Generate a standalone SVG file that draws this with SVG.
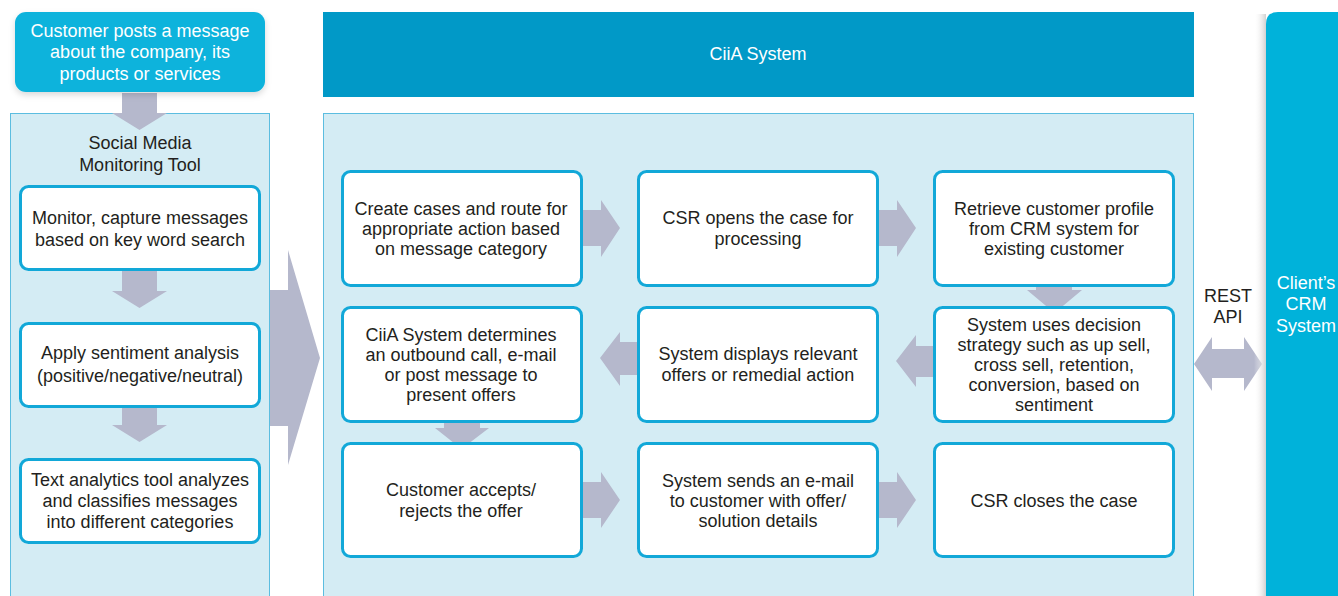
<svg xmlns="http://www.w3.org/2000/svg" width="1338" height="596" viewBox="0 0 1338 596">
<style>
text{font-family:"Liberation Sans",Arial,sans-serif;font-size:18px;fill:#231f20;text-anchor:middle}
.w{fill:#ffffff}
.panel{fill:#d4ecf4;stroke:#5bbde0;stroke-width:1}
.box{fill:#ffffff;stroke:#12a8d8;stroke-width:3}
.arr{fill:#b5b8cc}
</style>
<defs>
<linearGradient id="sh" x1="0" y1="0" x2="1" y2="0">
<stop offset="0" stop-color="#ffffff" stop-opacity="0"/>
<stop offset="1" stop-color="#d0d0d0"/>
</linearGradient>
<filter id="ds" x="-10%" y="-10%" width="120%" height="130%">
<feDropShadow dx="0" dy="3" stdDeviation="3" flood-color="#000" flood-opacity="0.15"/>
</filter>
</defs>

<g id="panels">
<rect class="panel" x="10.5" y="113.5" width="259" height="490"/>
<rect class="panel" x="323.5" y="113.5" width="870" height="490"/>
</g>

<g id="connectors">
<polygon class="arr" points="122,93 157,93 157,113 167,113 139.5,130 112,113 122,113"/>
<polygon class="arr" points="122,270 157,270 157,291 167,291 139.5,308 112,291 122,291"/>
<polygon class="arr" points="122,406 157,406 157,425 167,425 139.5,442 112,425 122,425"/>
<polygon class="arr" points="270,290 288,290 288,250 320,358 288,465 288,426 270,426"/>
<polygon class="arr" points="582,210 601,210 601,200 620,228 601,257 601,246 582,246"/>
<polygon class="arr" points="878,210 897,210 897,200 916,228 897,257 897,246 878,246"/>
<polygon class="arr" points="1036,284 1072,284 1072,290 1082,290 1054.5,313 1027,290 1036,290"/>
<polygon class="arr" points="934,346 916,346 916,335 896,361 916,387 916,377 934,377"/>
<polygon class="arr" points="638,342 620,342 620,332 600,358 620,386 620,375 638,375"/>
<polygon class="arr" points="444,420 480,420 480,428 489,428 461.5,449 435,428 444,428"/>
<polygon class="arr" points="582,482 601,482 601,472 620,500 601,528 601,518 582,518"/>
<polygon class="arr" points="878,482 897,482 897,472 916,500 897,528 897,518 878,518"/>
<polygon class="arr" points="1194,364 1212,337 1212,349 1244,349 1244,337 1262,364 1244,391 1244,378 1212,378 1212,391"/>
</g>

<g id="customer">
<rect x="15" y="12" width="250" height="80" rx="11" fill="#0db3dc" filter="url(#ds)"/>
<text class="w" x="140" y="37">Customer posts a message</text>
<text class="w" x="140" y="58">about the company, its</text>
<text class="w" x="140" y="80">products or services</text>
</g>

<g id="smm-title">
<text x="140" y="149">Social Media</text>
<text x="140" y="171">Monitoring Tool</text>
</g>

<g id="monitor">
<rect class="box" x="20.5" y="186.5" width="239" height="83" rx="8"/>
<text x="140" y="224">Monitor, capture messages</text>
<text x="140" y="246">based on key word search</text>
</g>
<g id="sentiment">
<rect class="box" x="20.5" y="323.5" width="239" height="83" rx="8"/>
<text x="140" y="359">Apply sentiment analysis</text>
<text x="140" y="382">(positive/negative/neutral)</text>
</g>
<g id="analytics">
<rect class="box" x="20.5" y="459.5" width="239" height="83" rx="8"/>
<text x="140" y="486">Text analytics tool analyzes</text>
<text x="140" y="507">and classifies messages</text>
<text x="140" y="528">into different categories</text>
</g>

<g id="ciia-header">
<rect x="323" y="12" width="871" height="85" fill="#0199c7"/>
<text class="w" x="758" y="60">CiiA System</text>
</g>

<g id="create-cases">
<rect class="box" x="342.5" y="171.5" width="239" height="114" rx="8"/>
<text x="461" y="215">Create cases and route for</text>
<text x="461" y="235">appropriate action based</text>
<text x="461" y="255">on message category</text>
</g>
<g id="csr-opens">
<rect class="box" x="638.5" y="171.5" width="239" height="114" rx="8"/>
<text x="758" y="224">CSR opens the case for</text>
<text x="758" y="245">processing</text>
</g>
<g id="retrieve">
<rect class="box" x="934.5" y="171.5" width="239" height="114" rx="8"/>
<text x="1054" y="215">Retrieve customer profile</text>
<text x="1054" y="235">from CRM system for</text>
<text x="1054" y="255">existing customer</text>
</g>

<g id="determines">
<rect class="box" x="342.5" y="307.5" width="239" height="114" rx="8"/>
<text x="461" y="341">CiiA System determines</text>
<text x="461" y="361">an outbound call, e-mail</text>
<text x="461" y="381">or post message to</text>
<text x="461" y="401">present offers</text>
</g>
<g id="displays">
<rect class="box" x="638.5" y="307.5" width="239" height="114" rx="8"/>
<text x="758" y="360">System displays relevant</text>
<text x="758" y="381">offers or remedial action</text>
</g>
<g id="decision">
<rect class="box" x="934.5" y="307.5" width="239" height="114" rx="8"/>
<text x="1054" y="331">System uses decision</text>
<text x="1054" y="351">strategy such as up sell,</text>
<text x="1054" y="371">cross sell, retention,</text>
<text x="1054" y="391">conversion, based on</text>
<text x="1054" y="411">sentiment</text>
</g>

<g id="accepts">
<rect class="box" x="342.5" y="443.5" width="239" height="113" rx="8"/>
<text x="461" y="496">Customer accepts/</text>
<text x="461" y="517">rejects the offer</text>
</g>
<g id="sends">
<rect class="box" x="638.5" y="443.5" width="239" height="113" rx="8"/>
<text x="758" y="487">System sends an e-mail</text>
<text x="758" y="507">to customer with offer/</text>
<text x="758" y="527">solution details</text>
</g>
<g id="closes">
<rect class="box" x="934.5" y="443.5" width="239" height="113" rx="8"/>
<text x="1054" y="507">CSR closes the case</text>
</g>

<g id="rest-api">
<text x="1228" y="302">REST</text>
<text x="1228" y="323">API</text>
</g>

<g id="crm">
<rect x="1254" y="14" width="12" height="582" fill="url(#sh)"/>
<path d="M1266,24 Q1266,12 1278,12 L1338,12 L1338,596 L1266,596 Z" fill="#00b2da"/>
<text class="w" x="1306" y="289">Client’s</text>
<text class="w" x="1306" y="310">CRM</text>
<text class="w" x="1306" y="332">System</text>
</g>
</svg>
